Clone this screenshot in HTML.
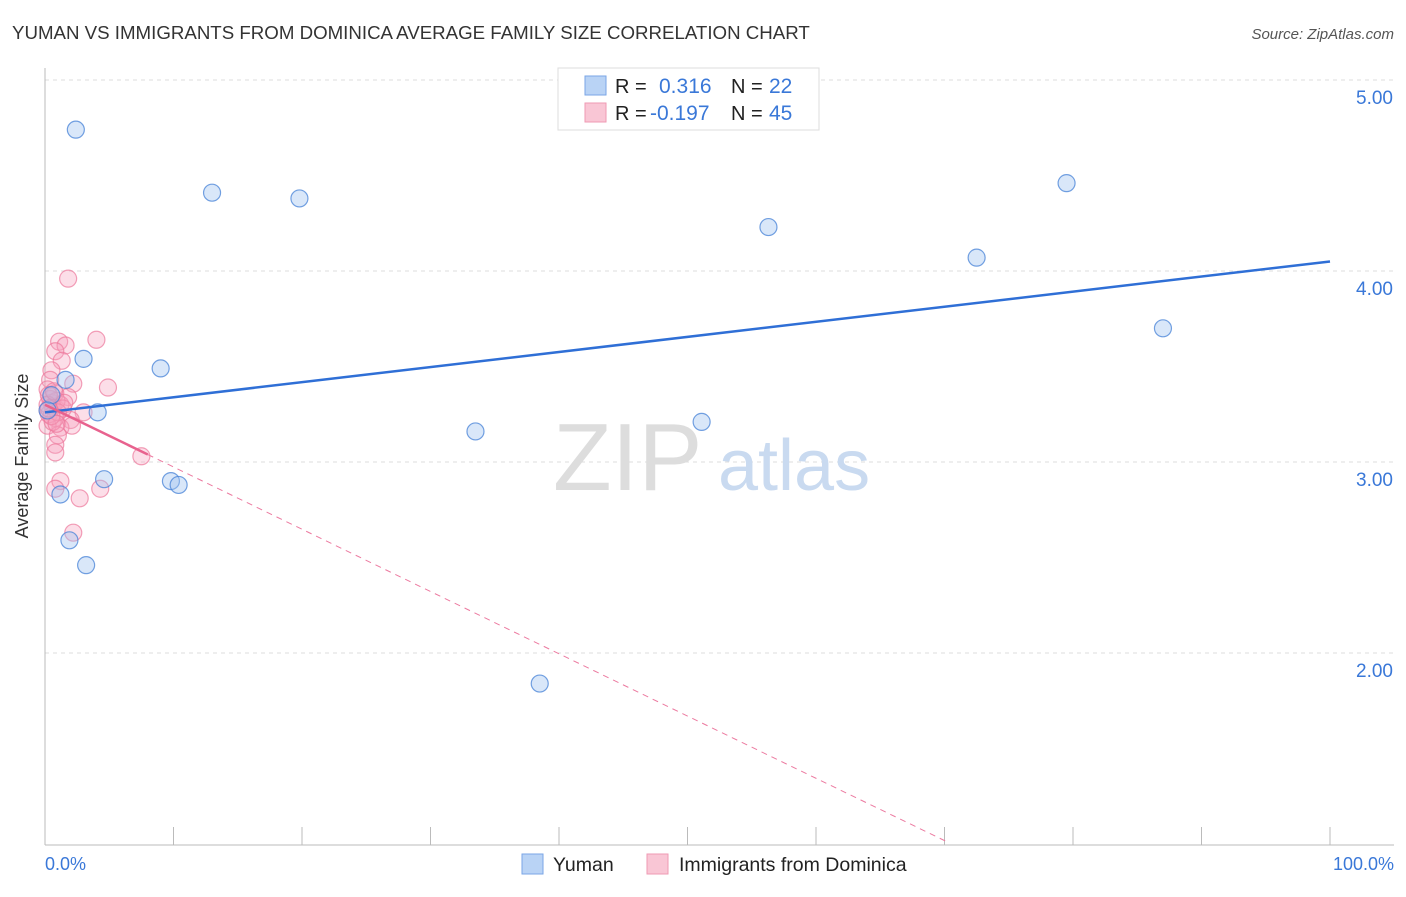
<!DOCTYPE html>
<html><head><meta charset="utf-8"><style>
body{margin:0;background:#fff;font-family:"Liberation Sans",sans-serif}
svg text{font-family:"Liberation Sans",sans-serif}
</style></head><body>
<svg id="chart" width="1406" height="892" xmlns="http://www.w3.org/2000/svg">
<text x="12" y="39" font-size="18.7" fill="#333">YUMAN VS IMMIGRANTS FROM DOMINICA AVERAGE FAMILY SIZE CORRELATION CHART</text>
<text x="1394" y="39" font-size="15" fill="#555" font-style="italic" text-anchor="end">Source: ZipAtlas.com</text>
<g id="grid"></g>
<g><text x="553" y="490" font-size="96" fill="#ddd" font-family="Liberation Serif">ZIP</text><text x="718" y="490" font-size="72" fill="#c9daf0">atlas</text></g>
<line x1="45" y1="68" x2="45" y2="845" stroke="#bbb"/>
<line x1="45" y1="845" x2="1394" y2="845" stroke="#bbb"/>
<g id="xticks"></g>
<text x="28" y="456" font-size="18" fill="#333" text-anchor="middle" transform="rotate(-90 28 456)">Average Family Size</text>
<text x="45" y="870" font-size="18" fill="#3a78d8">0.0%</text>
<text x="1394" y="870" font-size="18" fill="#3a78d8" text-anchor="end">100.0%</text>
<g id="pts"></g>
<g id="lines"></g>
<g>
<rect x="558" y="68" width="261" height="62" fill="#fff" stroke="#ddd"/>
<rect x="585" y="76" width="21" height="19" fill="#b9d3f5" stroke="#7aa6e6"/>
<rect x="585" y="103" width="21" height="19" fill="#f9c6d5" stroke="#ef9ab3"/>
<text font-size="20" fill="#222"><tspan x="615" y="93">R =</tspan><tspan x="731" y="93">N =</tspan><tspan x="615" y="120">R =</tspan><tspan x="731" y="120">N =</tspan></text>
<text font-size="21" fill="#3a78d8"><tspan x="659" y="93">0.316</tspan><tspan x="769" y="93">22</tspan><tspan x="650" y="120">-0.197</tspan><tspan x="769" y="120">45</tspan></text>
</g>
<g>
<rect x="522" y="854" width="21" height="20" fill="#b9d3f5" stroke="#7aa6e6"/>
<text x="553" y="871" font-size="19.5" fill="#222">Yuman</text>
<rect x="647" y="854" width="21" height="20" fill="#f9c6d5" stroke="#ef9ab3"/>
<text x="679" y="871" font-size="19.5" fill="#222">Immigrants from Dominica</text>
</g>
</svg>
<script>
const yTicks=[2,3,4,5];
const yTickLabels=["2.00","3.00","4.00","5.00"];
const xTickVals=[0,10,20,30,40,50,60,70,80,90,100];
const yumanX=[2.4,13.0,19.8,79.5,56.3,72.5,87.0,3.0,9.0,1.6,4.1,51.1,33.5,4.6,9.8,10.4,1.2,1.9,3.2,38.5,0.5,0.2];
const yumanY=[4.74,4.41,4.38,4.46,4.23,4.07,3.70,3.54,3.49,3.43,3.26,3.21,3.16,2.91,2.90,2.88,2.83,2.59,2.46,1.84,3.35,3.27];
const domX=[1.8,4.0,1.1,1.6,0.8,1.3,0.5,4.9,2.2,0.4,1.8,0.8,0.2,0.5,0.2,1.2,3.0,2.0,1.2,2.1,0.8,0.2,1.0,0.8,0.8,7.5,1.2,0.8,4.3,2.7,2.2,0.4,0.6,0.3,0.9,1.4,0.3,0.6,0.2,1.0,0.5,0.7,1.5,0.3,0.9];
const domY=[3.96,3.64,3.63,3.61,3.58,3.53,3.48,3.39,3.41,3.43,3.34,3.36,3.38,3.31,3.27,3.30,3.26,3.22,3.18,3.19,3.23,3.19,3.14,3.09,3.05,3.03,2.90,2.86,2.86,2.81,2.63,3.33,3.29,3.25,3.32,3.28,3.35,3.21,3.30,3.26,3.24,3.37,3.31,3.28,3.20];
const yumanTrend=[3.26,4.05];
const domTrend=[3.30,0.04];
const domSolidEnd=8;
const X=v=>45+v*12.85, Y=v=>271-(v-4)*191;
const NS="http://www.w3.org/2000/svg";
function mk(t,a,p){const e=document.createElementNS(NS,t);for(const k in a)e.setAttribute(k,a[k]);p.appendChild(e);return e;}
const grid=document.getElementById('grid');
yTicks.forEach((t,i)=>{
 const l=mk('line',{x1:45,x2:1394,y1:Y(t),y2:Y(t),stroke:'#ddd','stroke-dasharray':'4 4'},grid);
 
 
 const tx=mk('text',{x:1393,y:Y(t)+24,'font-size':19,fill:'#3a78d8','text-anchor':'end'},grid);
 tx.textContent=yTickLabels[i];
 
 
});
const xt=document.getElementById('xticks');
xTickVals.forEach(v=>{const l=mk('line',{x1:X(v),x2:X(v),y1:827,y2:845,stroke:'#bbb'},xt);
 
 });
const pts=document.getElementById('pts');
domX.forEach((x,i)=>{const c=mk('circle',{cx:X(x),cy:Y(domY[i]),r:8.5,fill:'rgba(246,160,188,0.35)',stroke:'rgba(236,120,155,0.7)','stroke-width':1.2},pts);
 
 });
yumanX.forEach((x,i)=>{const c=mk('circle',{cx:X(x),cy:Y(yumanY[i]),r:8.5,fill:'rgba(160,195,240,0.4)',stroke:'rgba(70,130,215,0.75)','stroke-width':1.2},pts);
 
 });
const ln=document.getElementById('lines');
const b=mk('line',{x1:X(0),y1:Y(yumanTrend[0]),x2:X(100),y2:Y(yumanTrend[1]),stroke:'#2f6fd6','stroke-width':2.5},ln);


const dy=x=>domTrend[0]+(domTrend[1]-domTrend[0])*x/100;
// extend dashed line until it reaches the bottom of plot (y pixel 842)
const vBottom=4-(842-271)/191;
let xe=(vBottom-domTrend[0])/(domTrend[1]-domTrend[0])*100;
if(!(xe>0&&xe<100))xe=100;
const pd=mk('line',{x1:X(domSolidEnd),y1:Y(dy(domSolidEnd)),x2:X(xe),y2:Y(dy(xe)),stroke:'#ec7aa0','stroke-width':1,'stroke-dasharray':'6 5'},ln);


const ps=mk('line',{x1:X(0),y1:Y(dy(0)),x2:X(domSolidEnd),y2:Y(dy(domSolidEnd)),stroke:'#e8628e','stroke-width':2.5},ln);


</script>
</body></html>
